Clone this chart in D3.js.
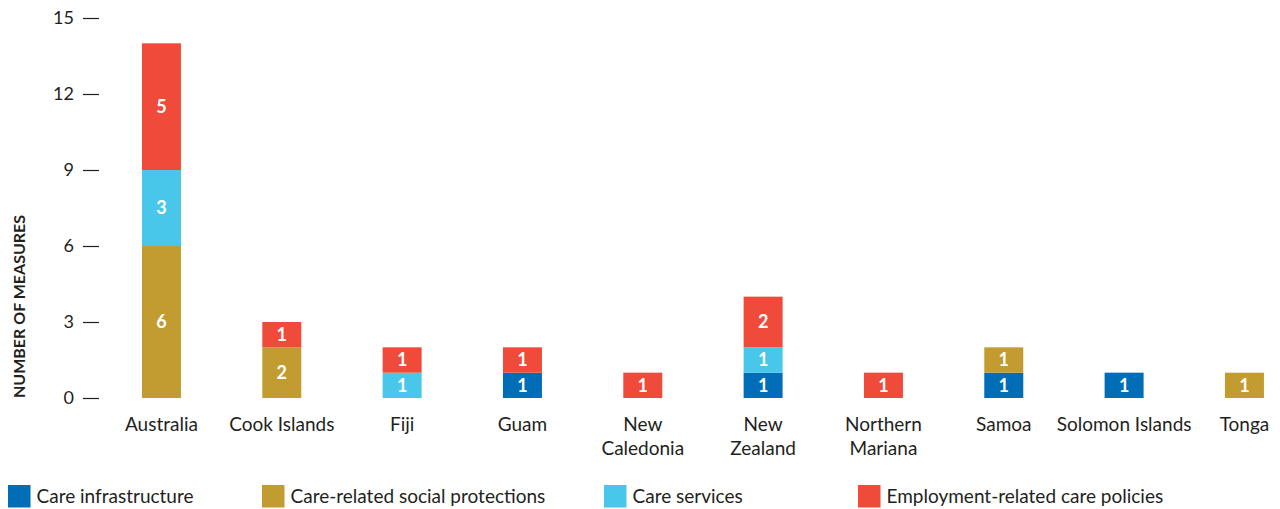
<!DOCTYPE html>
<html>
<head>
<meta charset="utf-8">
<script src="https://cdn.jsdelivr.net/npm/d3@7"></script>
<style>
  html, body { margin: 0; padding: 0; background: #ffffff; }
  svg { display: block; font-family: Lato, "Open Sans", sans-serif; }
</style>
</head>
<body>
<svg id="chart" width="1280" height="509"></svg>
<script>
// Territories shown along the x axis
const categories = ["Australia", "Cook Islands", "Fiji", "Guam", "New Caledonia",
  "New Zealand", "Northern Mariana", "Samoa", "Solomon Islands", "Tonga"];
// Axis label text, with explicit line breaks
const tickLabels = ["Australia", "Cook Islands", "Fiji", "Guam", "New\nCaledonia",
  "New\nZealand", "Northern\nMariana", "Samoa", "Solomon Islands", "Tonga"];

// Number of measures per type, in stacking order (bottom to top)
const seriesNames = ["Care infrastructure", "Care-related social protections",
  "Care services", "Employment-related care policies"];
const careInfrastructure   = [0, 0, 0, 1, 0, 1, 0, 1, 1, 0];
const socialProtections    = [6, 2, 0, 0, 0, 0, 0, 1, 0, 1];
const careServices         = [3, 0, 1, 0, 0, 1, 0, 0, 0, 0];
const employmentPolicies   = [5, 1, 1, 1, 1, 2, 1, 0, 0, 0];

const yTicks = [0, 3, 6, 9, 12, 15];
const yTitle = "NUMBER OF MEASURES";

const colors = ["#006EB6", "#C29B31", "#48C7EA", "#F04A3A"];
const textColor = "#231F20";

const seriesValues = [careInfrastructure, socialProtections, careServices, employmentPolicies];
const rows = categories.map((c, i) => {
  const row = { category: c };
  seriesNames.forEach((s, k) => { row[s] = seriesValues[k][i]; });
  return row;
});

const svg = d3.select("#chart");

const x = d3.scaleBand()
  .domain(categories)
  .range([101.3, 1304.6])
  .paddingInner(0.676)
  .paddingOuter(0.338);

const y = d3.scaleLinear().domain([0, 15]).range([398, 18]);

const stacked = d3.stack().keys(seriesNames)(rows);

// Stacked bars
const layers = svg.append("g").selectAll("g")
  .data(stacked)
  .join("g")
  .attr("fill", (d, i) => colors[i]);

layers.selectAll("rect")
  .data(d => d.filter(p => p[1] - p[0] > 0))
  .join("rect")
  .attr("x", d => x(d.data.category))
  .attr("width", x.bandwidth())
  .attr("y", d => y(d[1]))
  .attr("height", d => y(d[0]) - y(d[1]));

// Value labels inside each segment
layers.selectAll("text")
  .data(d => d.filter(p => p[1] - p[0] > 0))
  .join("text")
  .attr("x", d => x(d.data.category) + x.bandwidth() / 2)
  .attr("y", d => (y(d[0]) + y(d[1])) / 2)
  .attr("dy", "0.36em")
  .attr("text-anchor", "middle")
  .attr("fill", "#ffffff")
  .attr("font-size", 18)
  .attr("font-weight", "bold")
  .text(d => d[1] - d[0]);

// Y axis: short ticks, no domain line
const yAxis = svg.append("g")
  .attr("transform", "translate(99,0)")
  .call(d3.axisLeft(y).tickValues(yTicks).tickSize(16).tickPadding(9));
yAxis.select(".domain").remove();
yAxis.selectAll(".tick line").attr("stroke", "#231F20").attr("stroke-width", 1.2);
yAxis.selectAll(".tick text")
  .attr("fill", textColor)
  .attr("font-size", 18)
  .attr("font-family", "Lato, 'Open Sans', sans-serif");

svg.append("text")
  .attr("transform", "translate(25,398) rotate(-90)")
  .attr("text-anchor", "start")
  .attr("fill", textColor)
  .attr("font-size", 16)
  .attr("font-weight", "bold")
  .text(yTitle);

// X axis: category names only
const xAxis = svg.append("g")
  .attr("transform", "translate(0,398)")
  .call(d3.axisBottom(x).tickSize(0).tickFormat((d, i) => tickLabels[i]));
xAxis.select(".domain").remove();
xAxis.selectAll(".tick text").each(function(d, i) {
  const t = d3.select(this);
  const lines = tickLabels[i].split("\n");
  t.text(null)
    .attr("y", 0)
    .attr("dy", null)
    .attr("fill", textColor)
    .attr("font-size", 19)
    .attr("font-family", "Lato, 'Open Sans', sans-serif");
  lines.forEach((ln, j) => {
    t.append("tspan").attr("x", 0).attr("y", 33 + j * 23.5).text(ln);
  });
});

// Legend
const legendX = [8, 262, 604, 858];
const legend = svg.append("g").selectAll("g")
  .data(seriesNames)
  .join("g")
  .attr("transform", (d, i) => `translate(${legendX[i]},485)`);
legend.append("rect")
  .attr("width", 22.5).attr("height", 22.5)
  .attr("fill", (d, i) => colors[i]);
legend.append("text")
  .attr("x", 28.5).attr("y", 18.3)
  .attr("fill", textColor)
  .attr("font-size", 19)
  .text(d => d);
</script>
</body>
</html>
